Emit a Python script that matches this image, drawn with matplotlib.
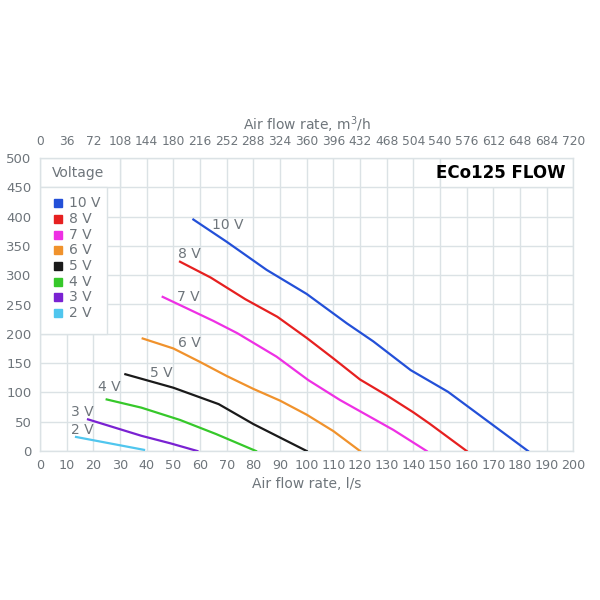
import matplotlib
matplotlib.use('Agg')
import matplotlib.pyplot as plt
from matplotlib.patches import Rectangle

# ---- data (x: l/s, y: Pa) ----
voltages = ['10 V', '8 V', '7 V', '6 V', '5 V', '4 V', '3 V', '2 V']
colors = ['#2350d8', '#e62020', '#ee30e4', '#f0922c', '#1a1a1a', '#36c82a', '#7a22d2', '#50c6ee']

flow_10 = [57.5, 70, 85, 100, 115, 125, 139, 153, 183]
pres_10 = [395, 357, 309, 268, 218, 187, 138, 101, 0]
flow_8 = [52.5, 64, 77, 89, 100, 110, 120, 130, 140, 146, 160]
pres_8 = [323, 296, 259, 229, 193, 158, 122, 95, 66, 47, 0]
flow_7 = [46, 52.5, 65, 74, 88.7, 100.6, 112.5, 132.5, 145]
pres_7 = [263, 249, 222, 201, 161, 121, 87, 36, 0]
flow_6 = [38.5, 50, 60, 70, 80, 90, 100, 110, 120]
pres_6 = [192, 175, 152, 128, 106, 86, 62, 34, 0]
flow_5 = [32, 50, 67, 80, 100]
pres_5 = [131, 108, 80, 46, 0]
flow_4 = [25, 38, 52.5, 66, 81]
pres_4 = [88, 74, 53, 29, 0]
flow_3 = [18, 38, 49, 59]
pres_3 = [54, 26, 13, 0]
flow_2 = [13.5, 39]
pres_2 = [24, 2]

flows = [flow_10, flow_8, flow_7, flow_6, flow_5, flow_4, flow_3, flow_2]
pressures = [pres_10, pres_8, pres_7, pres_6, pres_5, pres_4, pres_3, pres_2]

# curve label anchors (left edge of text)
label_x = [64.5, 51.9, 51.2, 51.9, 41.2, 21.6, 11.6, 11.6]
label_y = [386, 337, 263, 184, 133, 110, 67, 36]

x_ticks = list(range(0, 201, 10))
y_ticks = list(range(0, 501, 50))
top_labels = ['0', '36', '72', '108', '144', '180', '216', '252', '288', '324', '360',
              '396', '432', '468', '504', '540', '576', '612', '648', '684', '720']

GRID = '#dbe2e5'
TXT = '#6e757b'

plt.rcParams['font.family'] = ['DejaVu Sans']

fig = plt.figure(figsize=(6, 6), dpi=100)
ax = fig.add_axes([0.0667, 0.2483, 0.8889, 0.4884])
ax.set_xlim(0, 200)
ax.set_ylim(0, 500)
ax.set_xticks(x_ticks)
ax.set_yticks(y_ticks)
ax.grid(True, color=GRID, linewidth=1.0, zorder=0)
ax.set_axisbelow(True)
for s in ax.spines.values():
    s.set_color(GRID)
    s.set_linewidth(1.0)
ax.tick_params(axis='both', length=0, colors=TXT, labelsize=9.5)
ax.tick_params(axis='x', pad=6, labelsize=9.2)
ax.tick_params(axis='y', pad=6)
ax.set_xlabel('Air flow rate, l/s', color=TXT, fontsize=10, labelpad=3)

ax2 = ax.twiny()
ax2.set_xlim(0, 200)
ax2.set_xticks(x_ticks)
ax2.set_xticklabels(top_labels)
ax2.tick_params(axis='x', length=0, colors=TXT, labelsize=8.8, pad=7)
for s in ax2.spines.values():
    s.set_visible(False)
ax2.set_xlabel('Air flow rate, m$^3$/h', color=TXT, fontsize=10, labelpad=4)

# white boxes for legend and title
ax.add_patch(Rectangle((0, 450), 30, 50, facecolor='white', edgecolor=GRID, linewidth=1.0, zorder=1))
ax.add_patch(Rectangle((0, 200), 25, 250, facecolor='white', edgecolor=GRID, linewidth=1.0, zorder=1))
ax.add_patch(Rectangle((150, 450), 50, 50, facecolor='white', edgecolor=GRID, linewidth=1.0, zorder=1))

for fx, py, c in zip(flows, pressures, colors):
    ax.plot(fx, py, color=c, linewidth=1.6, zorder=3)

for lab, lx, ly in zip(voltages, label_x, label_y):
    ax.text(lx, ly, lab, color=TXT, fontsize=10, ha='left', va='center', zorder=4)

ax.text(4.5, 474, 'Voltage', color=TXT, fontsize=10, ha='left', va='center', zorder=4)
for i, (lab, c) in enumerate(zip(voltages, colors)):
    yy = 423 - i * 26.8
    ax.plot([6.6], [yy], marker='s', markersize=6, color=c, linestyle='none', zorder=4)
    ax.text(10.9, yy, lab, color=TXT, fontsize=10, ha='left', va='center', zorder=4)

ax.text(197, 474, 'ECo125 FLOW', color='black', fontsize=12, fontweight='bold',
        ha='right', va='center', zorder=4)

fig.savefig('out.png', dpi=100, facecolor='white')
